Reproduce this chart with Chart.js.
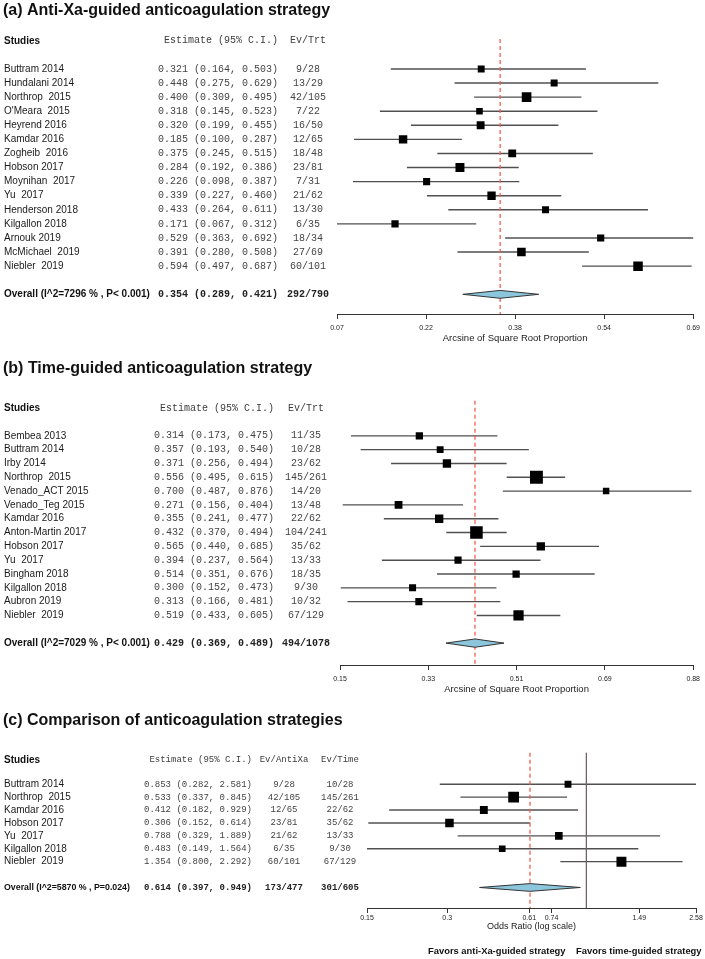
<!DOCTYPE html>
<html>
<head>
<meta charset="utf-8">
<title>Anticoagulation forest plots</title>
<script src="https://cdn.jsdelivr.net/npm/chart.js@4.4.1/dist/chart.umd.min.js"></script>
<style>
  body { margin: 0; background: #fff; }
  #wrap { position: relative; width: 705px; height: 959px; overflow: hidden; }
  #wrap canvas { position: absolute; left: 0; }
</style>
</head>
<body>
<div id="wrap">
  <canvas id="chartA" width="705"></canvas>
  <canvas id="chartB" width="705"></canvas>
  <canvas id="chartC" width="705"></canvas>
</div>
<script>
// (a) anti-Xa-guided
var studiesA = ['Buttram 2014', 'Hundalani 2014', 'Northrop  2015', "O'Meara  2015", 'Heyrend 2016', 'Kamdar 2016', 'Zogheib  2016', 'Hobson 2017', 'Moynihan  2017', 'Yu  2017', 'Henderson 2018', 'Kilgallon 2018', 'Arnouk 2019', 'McMichael  2019', 'Niebler  2019'];
var estA = [0.321, 0.448, 0.400, 0.318, 0.320, 0.185, 0.375, 0.284, 0.226, 0.339, 0.433, 0.171, 0.529, 0.391, 0.594];
var loA  = [0.164, 0.275, 0.309, 0.145, 0.199, 0.100, 0.245, 0.192, 0.098, 0.227, 0.264, 0.067, 0.363, 0.280, 0.497];
var hiA  = [0.503, 0.629, 0.495, 0.523, 0.455, 0.287, 0.515, 0.386, 0.387, 0.460, 0.611, 0.312, 0.692, 0.508, 0.687];
var evA  = [9, 13, 42, 7, 16, 12, 18, 23, 7, 21, 13, 6, 18, 27, 60];
var trtA = [28, 29, 105, 22, 50, 65, 48, 81, 31, 62, 30, 35, 34, 69, 101];
var overallA = [0.354, 0.289, 0.421];
var overallLabelA = 'Overall (I^2=7296 % , P< 0.001)';
var tickValsA = [0.07, 0.225, 0.38, 0.535, 0.69];
var tickLabelsA = ['0.07', '0.22', '0.38', '0.54', '0.69'];

// (b) time-guided
var studiesB = ['Bembea 2013', 'Buttram 2014', 'Irby 2014', 'Northrop  2015', 'Venado_ACT 2015', 'Venado_Teg 2015', 'Kamdar 2016', 'Anton-Martin 2017', 'Hobson 2017', 'Yu  2017', 'Bingham 2018', 'Kilgallon 2018', 'Aubron 2019', 'Niebler  2019'];
var estB = [0.314, 0.357, 0.371, 0.556, 0.700, 0.271, 0.355, 0.432, 0.565, 0.394, 0.514, 0.300, 0.313, 0.519];
var loB  = [0.173, 0.193, 0.256, 0.495, 0.487, 0.156, 0.241, 0.370, 0.440, 0.237, 0.351, 0.152, 0.166, 0.433];
var hiB  = [0.475, 0.540, 0.494, 0.615, 0.876, 0.404, 0.477, 0.494, 0.685, 0.564, 0.676, 0.473, 0.481, 0.605];
var evB  = [11, 10, 23, 145, 14, 13, 22, 104, 35, 13, 18, 9, 10, 67];
var trtB = [35, 28, 62, 261, 20, 48, 62, 241, 62, 33, 35, 30, 32, 129];
var overallB = [0.429, 0.369, 0.489];
var overallLabelB = 'Overall (I^2=7029 % , P< 0.001)';
var tickValsB = [0.15, 0.3325, 0.515, 0.6975, 0.88];
var tickLabelsB = ['0.15', '0.33', '0.51', '0.69', '0.88'];

// (c) comparison, odds ratios
var studiesC = ['Buttram 2014', 'Northrop  2015', 'Kamdar 2016', 'Hobson 2017', 'Yu  2017', 'Kilgallon 2018', 'Niebler  2019'];
var estC = [0.853, 0.533, 0.412, 0.306, 0.788, 0.483, 1.354];
var loC  = [0.282, 0.337, 0.182, 0.152, 0.329, 0.149, 0.800];
var hiC  = [2.581, 0.845, 0.929, 0.614, 1.889, 1.564, 2.292];
var evXaC = [9, 42, 12, 23, 21, 6, 60];
var nXaC  = [28, 105, 65, 81, 62, 35, 101];
var evTimeC = [10, 145, 22, 35, 13, 9, 67];
var nTimeC  = [28, 261, 62, 62, 33, 30, 129];
var overallC = [0.614, 0.397, 0.949];
var overallLabelC = 'Overall (I^2=5870 % , P=0.024)';
var tickValsC = [0.15, 0.3, 0.61, 0.74, 1.58, 2.58];
var tickLabelsC = ['0.15', '0.3', '0.61', '0.74', '1.49', '2.58'];

var FONT = '"Liberation Sans", Arial, Helvetica, sans-serif';
var MONO = '"Liberation Mono", "Courier New", monospace';

function sum(a) { return a.reduce(function (s, v) { return s + v; }, 0); }
function fmtEst(e, l, h) { return e.toFixed(3) + ' (' + l.toFixed(3) + ', ' + h.toFixed(3) + ')'; }
function ratio(ev, n) { return ev.map(function (v, i) { return v + '/' + n[i]; }); }

// box sizes from study weight
var sizeA = trtA.map(function (n) { return 4 + 0.55 * Math.sqrt(n); });
var sizeB = trtB.map(function (n) { return 4 + 0.55 * Math.sqrt(n); });
var sizeC = evXaC.map(function (a, i) {
  var w = 1 / (1 / a + 1 / (nXaC[i] - a) + 1 / evTimeC[i] + 1 / (nTimeC[i] - evTimeC[i]));
  return 4 + 1.6 * Math.sqrt(w);
});

// text columns left of the plot
var textPlugin = {
  id: 'forestText',
  afterDraw: function (chart) {
    var p = chart.options.forest;
    var ctx = chart.ctx, y = chart.scales.y;
    ctx.save();
    ctx.fillStyle = '#111';
    ctx.textAlign = 'left';
    ctx.textBaseline = 'alphabetic';
    ctx.font = 'bold 16px ' + FONT;
    ctx.fillText(p.title, 3, p.titleY);

    ctx.textBaseline = 'middle';
    var hy = y.getPixelForValue(p.headerRow);
    ctx.font = 'bold 10px ' + FONT;
    ctx.fillText('Studies', 4, hy);
    ctx.fillStyle = '#3c3c3c';
    ctx.font = p.mono + 'px ' + MONO;
    ctx.textAlign = 'right';
    ctx.fillText('Estimate (95% C.I.)', p.estRight, hy);
    ctx.textAlign = 'center';
    p.countHeads.forEach(function (h, k) { ctx.fillText(h, p.countX[k], hy); });

    p.names.forEach(function (name, i) {
      var yy = y.getPixelForValue(i);
      ctx.fillStyle = '#1a1a1a';
      ctx.textAlign = 'left';
      ctx.font = '10px ' + FONT;
      ctx.fillText(name, 4, yy);
      ctx.fillStyle = '#444';
      ctx.font = p.mono + 'px ' + MONO;
      ctx.textAlign = 'right';
      ctx.fillText(fmtEst(p.est[i], p.lo[i], p.hi[i]), p.estRight, yy);
      ctx.textAlign = 'center';
      p.counts.forEach(function (col, k) { ctx.fillText(col[i], p.countX[k], yy); });
    });

    var oy = y.getPixelForValue(p.overallRow);
    var ov = p.overall;
    ctx.fillStyle = '#111';
    ctx.textAlign = 'left';
    ctx.font = 'bold ' + p.overallSize + 'px ' + FONT;
    ctx.fillText(p.overallLabel, 4, oy);
    ctx.fillStyle = '#222';
    ctx.font = 'bold ' + p.mono + 'px ' + MONO;
    ctx.textAlign = 'right';
    ctx.fillText(fmtEst(ov[0], ov[1], ov[2]), p.estRight, oy);
    ctx.textAlign = 'center';
    p.totals.forEach(function (t, k) { ctx.fillText(t, p.countX[k], oy); });

    if (p.favors) {
      ctx.fillStyle = '#111';
      ctx.textAlign = 'left';
      ctx.font = 'bold 9.4px ' + FONT;
      p.favors.forEach(function (f) { ctx.fillText(f[0], f[1], p.favorsY); });
    }
    ctx.restore();
  }
};

function makeForest(id, p) {
  var yMin = -p.row0 / p.rowPx;
  var yMax = (p.axisPx - p.row0) / p.rowPx;
  var canvas = document.getElementById(id);
  canvas.style.top = p.top + 'px';
  canvas.height = p.axisPx + p.axisH + p.padBottom;

  var ov = p.overall, r = p.overallRow, h = p.diamondH;
  var datasets = [
    { type: 'bar', indexAxis: 'y', order: 5,
      data: p.names.map(function (n, i) { return { x: [p.lo[i], p.hi[i]], y: i }; }),
      backgroundColor: '#505050', barThickness: 1, borderWidth: 0, inflateAmount: 0.2 },
    { type: 'line', order: 3,
      data: [{ x: ov[0], y: p.refTop }, { x: ov[0], y: yMax }],
      borderColor: '#f2604c', borderWidth: 1.3, borderDash: [4, 3], pointRadius: 0, fill: false },
    { type: 'scatter', order: 1,
      data: p.names.map(function (n, i) { return { x: p.est[i], y: i }; }),
      pointStyle: 'rect', pointRadius: p.sizes.map(function (s) { return s / Math.SQRT2; }),
      backgroundColor: '#000', borderWidth: 0 },
    { type: 'line', order: 2,
      data: [{ x: ov[1], y: r }, { x: ov[0], y: r - h }, { x: ov[2], y: r }, { x: ov[0], y: r + h }, { x: ov[1], y: r }],
      borderColor: '#333', borderWidth: 1, backgroundColor: '#8cc6dc', fill: 'shape', pointRadius: 0, tension: 0 }
  ];
  if (p.nullLine) {
    datasets.push({ type: 'line', order: 4,
      data: [{ x: 1, y: p.refTop }, { x: 1, y: yMax }],
      borderColor: '#6f6562', borderWidth: 1, pointRadius: 0, fill: false });
  }

  return new Chart(canvas, {
    type: 'scatter',
    data: { datasets: datasets },
    plugins: [textPlugin],
    options: {
      responsive: false,
      animation: false,
      events: [],
      forest: p,
      layout: { padding: { left: p.left, right: 705 - p.right, top: 0, bottom: p.padBottom } },
      plugins: { legend: { display: false }, tooltip: { enabled: false } },
      scales: {
        x: {
          type: p.xType, min: p.tickVals[0], max: p.tickVals[p.tickVals.length - 1],
          afterBuildTicks: function (s) { s.ticks = p.tickVals.map(function (v) { return { value: v }; }); },
          afterFit: function (s) { s.height = p.axisH; },
          ticks: {
            autoSkip: false, maxRotation: 0, minRotation: 0, padding: p.tickPad,
            font: { family: FONT, size: 7 }, color: '#222',
            callback: function (v, i) { return p.tickLabels[i]; }
          },
          grid: { drawOnChartArea: false, drawTicks: true, tickLength: 5, color: '#333' },
          border: { display: true, color: '#333' },
          title: { display: true, text: p.xTitle, font: { family: FONT, size: p.xTitleSize }, color: '#222', padding: { top: 0, bottom: 4 } }
        },
        y: { type: 'linear', reverse: true, min: yMin, max: yMax, display: false, offset: false }
      }
    }
  });
}

makeForest('chartA', {
  title: '(a) Anti-Xa-guided anticoagulation strategy', titleY: 14.5,
  names: studiesA, est: estA, lo: loA, hi: hiA, sizes: sizeA,
  counts: [ratio(evA, trtA)], totals: [sum(evA) + '/' + sum(trtA)], countHeads: ['Ev/Trt'], countX: [308],
  overall: overallA, overallLabel: overallLabelA, overallSize: 10, overallRow: 16, headerRow: -2, refTop: -2.12, diamondH: 0.28,
  mono: 10, estRight: 278,
  xType: 'linear', tickVals: tickValsA, tickLabels: tickLabelsA, xTitle: 'Arcsine of Square Root Proportion', xTitleSize: 9.5,
  top: 0, row0: 63.5, rowPx: 14.4, axisPx: 314, axisH: 34, tickPad: 5, padBottom: 0, left: 337, right: 695
});

makeForest('chartB', {
  title: '(b) Time-guided anticoagulation strategy', titleY: 23,
  names: studiesB, est: estB, lo: loB, hi: hiB, sizes: sizeB,
  counts: [ratio(evB, trtB)], totals: [sum(evB) + '/' + sum(trtB)], countHeads: ['Ev/Trt'], countX: [306],
  overall: overallB, overallLabel: overallLabelB, overallSize: 10, overallRow: 15, headerRow: -2, refTop: -2.53, diamondH: 0.3,
  mono: 10, estRight: 274,
  xType: 'linear', tickVals: tickValsB, tickLabels: tickLabelsB, xTitle: 'Arcsine of Square Root Proportion', xTitleSize: 9.5,
  top: 350, row0: 79, rowPx: 14.23, axisPx: 315, axisH: 34, tickPad: 5, padBottom: 0, left: 340, right: 695
});

makeForest('chartC', {
  title: '(c) Comparison of anticoagulation strategies', titleY: 25,
  names: studiesC, est: estC, lo: loC, hi: hiC, sizes: sizeC,
  counts: [ratio(evXaC, nXaC), ratio(evTimeC, nTimeC)],
  totals: [sum(evXaC) + '/' + sum(nXaC), sum(evTimeC) + '/' + sum(nTimeC)],
  countHeads: ['Ev/AntiXa', 'Ev/Time'], countX: [284, 340],
  overall: overallC, overallLabel: overallLabelC, overallSize: 8.8, overallRow: 8, headerRow: -1.87, refTop: -2.43, diamondH: 0.3,
  mono: 9, estRight: 252, nullLine: true,
  xType: 'logarithmic', tickVals: tickValsC, tickLabels: tickLabelsC, xTitle: 'Odds Ratio (log scale)', xTitleSize: 9,
  top: 700, row0: 79.5, rowPx: 13.4, axisPx: 208, axisH: 28, tickPad: 1, padBottom: 23, left: 367, right: 696,
  favors: [['Favors anti-Xa-guided strategy', 428], ['Favors time-guided strategy', 576]], favorsY: 251
});
</script>
</body>
</html>
